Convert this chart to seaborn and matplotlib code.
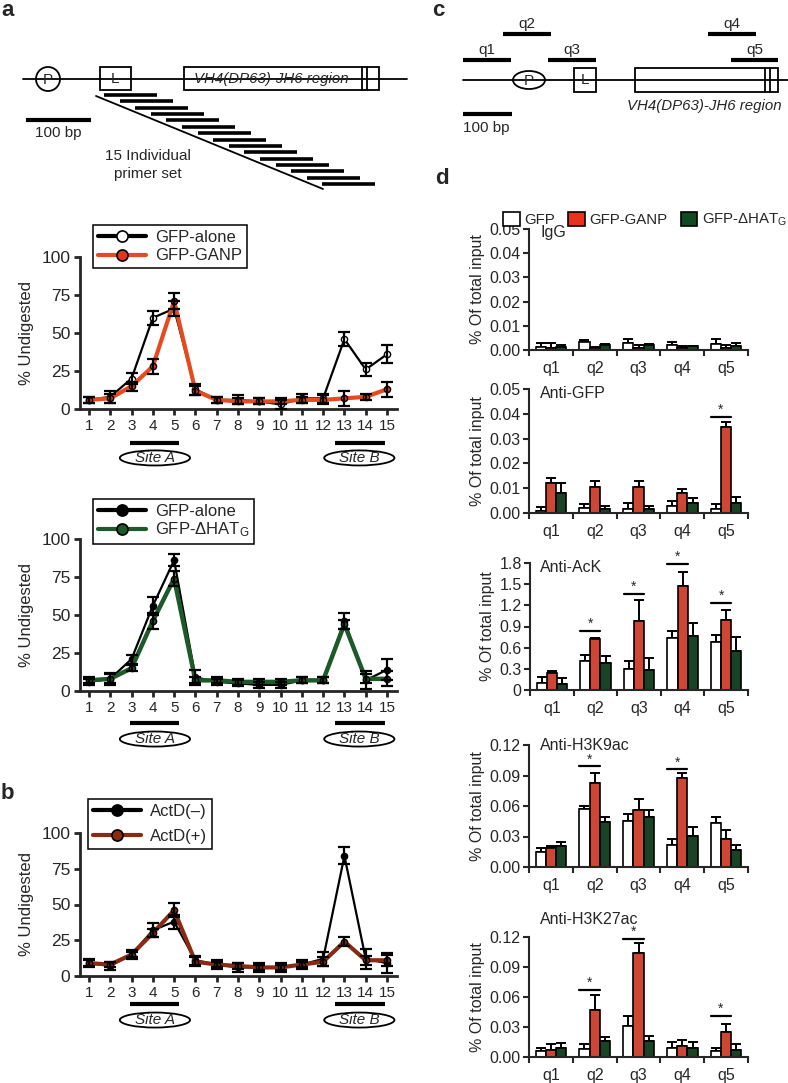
import numpy as np
import pandas as pd
import matplotlib
matplotlib.use('Agg')
import matplotlib.pyplot as plt
import seaborn as sns
from matplotlib.patches import Ellipse, Circle, Rectangle, Patch
from matplotlib.lines import Line2D

sns.set_style('ticks')
plt.rcParams['font.family'] = ['Liberation Sans', 'DejaVu Sans']
plt.rcParams['mathtext.default'] = 'regular'

W, H = 788, 1083

# ---------------- data: panels a / b (% undigested per primer set)
positions = list(range(1, 16))

a1_alone = [6, 8, 20, 60, 66, 13, 6, 6, 5, 3, 7, 7, 46, 26, 36]
a1_alone_err = [2, 4, 3.5, 4.5, 5, 3.5, 2, 3, 2, 3, 3, 3, 4.5, 4, 6]
a1_ganp = [6, 7, 15, 28, 71, 12, 6, 5, 5, 5, 6, 6, 7, 8, 13]
a1_ganp_err = [2, 3, 3, 5, 5, 3, 2, 2, 2, 2, 2, 3, 5, 2, 5]

a2_alone = [6, 8, 21, 56, 86, 9, 6, 5, 4, 4, 7, 7, 46, 7, 14]
a2_alone_err = [2, 4, 3, 6, 4, 5, 2, 2, 2, 2, 2, 2, 5, 6, 7]
a2_dhat = [7, 8, 15, 46, 74, 7, 7, 6, 6, 6, 7, 7, 44, 8, 8]
a2_dhat_err = [2, 3, 2, 5, 5, 2, 2, 2, 2, 2, 2, 2, 3, 3, 5]

b_minus = [9, 7, 15, 32, 38, 11, 8, 6, 6, 6, 8, 12, 84, 12, 9]
b_minus_err = [3, 3, 3, 5, 5, 3, 3, 3, 3, 3, 3, 5, 6, 7, 7]
b_plus = [9, 8, 15, 30, 46, 10, 8, 7, 6, 6, 8, 10, 24, 11, 11]
b_plus_err = [2, 2, 2, 3, 5, 3, 2, 2, 2, 2, 2, 3, 3, 3, 4]

# ---------------- data: panel d (ChIP, % of total input)
regions = ['q1', 'q2', 'q3', 'q4', 'q5']
conditions = ['GFP', 'GFP-GANP', 'GFP-dHAT']

igg = {'GFP': [0.0013, 0.0032, 0.0030, 0.0020, 0.0025],
       'GFP-GANP': [0.0010, 0.0008, 0.0010, 0.0010, 0.0010],
       'GFP-dHAT': [0.0013, 0.0020, 0.0020, 0.0015, 0.0015]}
igg_err = {'GFP': [0.0016, 0.0011, 0.0015, 0.0013, 0.0020],
           'GFP-GANP': [0.0019, 0.0005, 0.0010, 0.0005, 0.0010],
           'GFP-dHAT': [0.0009, 0.0005, 0.0005, 0.0003, 0.0015]}

gfp = {'GFP': [0.0010, 0.0020, 0.0016, 0.0030, 0.0018],
       'GFP-GANP': [0.0120, 0.0103, 0.0103, 0.0080, 0.0347],
       'GFP-dHAT': [0.0080, 0.0015, 0.0015, 0.0042, 0.0042]}
gfp_err = {'GFP': [0.0015, 0.0015, 0.0024, 0.0020, 0.0020],
           'GFP-GANP': [0.0020, 0.0027, 0.0027, 0.0016, 0.0021],
           'GFP-dHAT': [0.0040, 0.0012, 0.0015, 0.0017, 0.0024]}

ack = {'GFP': [0.10, 0.41, 0.30, 0.74, 0.68],
       'GFP-GANP': [0.246, 0.725, 0.98, 1.48, 0.99],
       'GFP-dHAT': [0.085, 0.38, 0.29, 0.76, 0.55]}
ack_err = {'GFP': [0.09, 0.09, 0.11, 0.09, 0.10],
           'GFP-GANP': [0.02, 0.015, 0.30, 0.19, 0.15],
           'GFP-dHAT': [0.08, 0.10, 0.17, 0.19, 0.20]}

h3k9 = {'GFP': [0.0148, 0.0569, 0.0450, 0.0214, 0.0437],
        'GFP-GANP': [0.0190, 0.0822, 0.0565, 0.0871, 0.0273],
        'GFP-dHAT': [0.0204, 0.0444, 0.0493, 0.0302, 0.0171]}
h3k9_err = {'GFP': [0.0039, 0.0029, 0.0076, 0.0066, 0.0050],
            'GFP-GANP': [0.0020, 0.0105, 0.0099, 0.0049, 0.0095],
            'GFP-dHAT': [0.0039, 0.0049, 0.0072, 0.0092, 0.0043]}

h3k27 = {'GFP': [0.0060, 0.0083, 0.0310, 0.0090, 0.0060],
         'GFP-GANP': [0.0073, 0.0473, 0.1043, 0.0107, 0.0247],
         'GFP-dHAT': [0.0090, 0.0160, 0.0157, 0.0090, 0.0067]}
h3k27_err = {'GFP': [0.0033, 0.0044, 0.0100, 0.0060, 0.0027],
             'GFP-GANP': [0.0060, 0.0150, 0.0097, 0.0060, 0.0086],
             'GFP-dHAT': [0.0053, 0.0040, 0.0053, 0.0063, 0.0066]}

# significance bars: (region index, height)
gfp_stars = [(4, 0.0387)]
ack_stars = [(1, 0.84), (2, 1.36), (3, 1.79), (4, 1.24)]
h3k9_stars = [(1, 0.099), (3, 0.096)]
h3k27_stars = [(1, 0.067), (2, 0.118), (4, 0.041)]

RED = '#e8331b'
GREEN = '#114a22'
LINE_RED = '#e84a1f'
LINE_GREEN = '#1c5a2a'
BROWN = '#8a2a10'
bar_colors = ['white', RED, GREEN]
dhat_label = 'GFP-ΔHAT$_G$'

fig = plt.figure(figsize=(W / 100, H / 100), dpi=100)
ov = fig.add_axes([0, 0, 1, 1])
ov.set_xlim(0, W)
ov.set_ylim(H, 0)
ov.axis('off')


def box(x0, y0, x1, y1):
    return [x0 / W, 1 - y1 / H, (x1 - x0) / W, (y1 - y0) / H]


#--- schematic a
k = dict(color='black', lw=1.3)
ov.plot([23, 407], [79, 79], **k)
ov.add_patch(Circle((48, 79), 12, fc='white', ec='black', lw=1.3))
ov.text(48, 80, 'P', ha='center', va='center', fontsize=11)
ov.add_patch(Rectangle((100, 67), 31, 23, fc='white', ec='black', lw=1.3))
ov.text(115.5, 79, 'L', ha='center', va='center', fontsize=11)
ov.add_patch(Rectangle((184, 67), 195, 23, fc='white', ec='black', lw=1.3))
ov.plot([362, 362], [67, 90], **k)
ov.plot([367, 367], [67, 90], **k)
ov.text(271, 79, 'VH4(DP63)-JH6 region', style='italic', fontsize=10.8, ha='center', va='center')
ov.plot([26, 91], [120, 120], color='black', lw=3, solid_capstyle='butt')
ov.text(58, 133, '100 bp', ha='center', va='center', fontsize=11)
for i in range(15):
    ov.plot([104 + 15.6 * i, 157 + 15.6 * i], [95 + 6.36 * i] * 2, color='black', lw=2.6,
            solid_capstyle='butt')
ov.plot([96, 323], [96, 189], **k)
ov.text(148, 165, '15 Individual\nprimer set', ha='center', va='center', fontsize=11, linespacing=1.3)

#--- schematic c
ov.plot([463, 788], [80, 80], **k)
ov.add_patch(Ellipse((529, 80), 32, 18, fc='white', ec='black', lw=1.3))
ov.text(529, 81, 'P', ha='center', va='center', fontsize=11)
ov.add_patch(Rectangle((574, 68), 22, 24, fc='white', ec='black', lw=1.3))
ov.text(585, 80, 'L', ha='center', va='center', fontsize=11)
ov.add_patch(Rectangle((635, 68), 143, 24, fc='white', ec='black', lw=1.3))
ov.plot([765, 765], [68, 92], **k)
ov.plot([770, 770], [68, 92], **k)
for name, x0, x1, y in [('q1', 463, 511, 60), ('q2', 503, 551, 34), ('q3', 548, 596, 60),
                        ('q4', 708, 756, 34), ('q5', 731, 778, 60)]:
    ov.plot([x0, x1], [y, y], color='black', lw=3, solid_capstyle='butt')
    ov.text((x0 + x1) / 2, y - 10, name, ha='center', va='center', fontsize=11)
ov.plot([463, 512], [114, 114], color='black', lw=3, solid_capstyle='butt')
ov.text(463, 128, '100 bp', ha='left', va='center', fontsize=11)
ov.text(704, 106, 'VH4(DP63)-JH6 region', style='italic', fontsize=10.8, ha='center', va='center')

for lab, x, y in [('a', 1, 0), ('b', 1, 783), ('c', 432, 0), ('d', 435, 168)]:
    ov.text(x, y, lab, fontsize=16, fontweight='bold', va='top', ha='left')


#--- line panels
def line_panel(rect, series, leg_xy, leg_space, bar_y, ell_y, ell_h):
    ax = fig.add_axes(box(*rect))
    ax.patch.set_alpha(0)
    handles = []
    for vals, errs, color, lw, mface, label in series:
        sns.lineplot(x=positions, y=vals, color=color, lw=lw, marker='o', markersize=4.5,
                     markerfacecolor=mface, markeredgecolor='black', markeredgewidth=1, ax=ax)
        ax.errorbar(positions, vals, yerr=errs, fmt='none', ecolor='black', elinewidth=1.6,
                    capsize=4.6, capthick=1.6, zorder=5)
        handles.append(Line2D([], [], color=color, lw=3, marker='o', markersize=8,
                              markerfacecolor=mface, markeredgecolor='black', markeredgewidth=1.2,
                              label=label))
    ax.set_xlim(0.58, 15.47)
    ax.set_ylim(0, 100)
    ax.set_xticks(positions)
    ax.set_yticks([0, 25, 50, 75, 100])
    ax.tick_params(width=2, length=4, pad=3)
    ax.tick_params(axis='x', labelsize=11)
    ax.tick_params(axis='y', labelsize=12.5)
    for s in ['left', 'bottom']:
        ax.spines[s].set_linewidth(2)
    sns.despine(ax=ax)
    ax.set_ylabel('% Undigested', fontsize=12, labelpad=5)
    tr = ax.get_xaxis_transform()
    for lo, hi, cx, name in [(2.95, 5.25, 4.1, 'Site A'), (12.55, 14.9, 13.7, 'Site B')]:
        ax.plot([lo, hi], [bar_y, bar_y], transform=tr, color='black', lw=3, clip_on=False,
                solid_capstyle='butt')
        ax.add_patch(Ellipse((cx, ell_y), 3.3, ell_h, transform=tr, fill=False, ec='black',
                             lw=1.3, clip_on=False))
        ax.text(cx, ell_y, name, transform=tr, ha='center', va='center', style='italic', fontsize=11)
    leg = fig.legend(handles=handles, loc='upper left', bbox_to_anchor=(leg_xy[0] / W, 1 - leg_xy[1] / H),
                     fontsize=12, handlelength=2.9, handletextpad=0.5, borderpad=0.3, borderaxespad=0,
                     labelspacing=leg_space, fancybox=False, edgecolor='black', framealpha=1)
    leg.get_frame().set_linewidth(1.1)
    return ax


line_panel((80, 257, 397, 409),
           [(a1_alone, a1_alone_err, 'black', 1.6, 'white', 'GFP-alone'),
            (a1_ganp, a1_ganp_err, LINE_RED, 3, RED, 'GFP-GANP')],
           (93, 225), 0.2, -0.224, -0.322, 0.099)
line_panel((80, 539, 397, 691),
           [(a2_alone, a2_alone_err, 'black', 1.6, 'black', 'GFP-alone'),
            (a2_dhat, a2_dhat_err, LINE_GREEN, 3.2, LINE_GREEN, dhat_label)],
           (93, 499), 0.1, -0.21, -0.316, 0.099)
line_panel((80, 833, 397, 976),
           [(b_minus, b_minus_err, 'black', 1.6, 'black', 'ActD(–)'),
            (b_plus, b_plus_err, BROWN, 3, BROWN, 'ActD(+)')],
           (88, 799), 0.6, -0.196, -0.308, 0.105)


#--- bar panels
def bar_panel(rect, vals, errs, ylim, yticks, ylabels, title, title_y, stars):
    ax = fig.add_axes(box(*rect))
    ax.patch.set_alpha(0)
    df = pd.DataFrame([(r, c, vals[c][i]) for c in conditions for i, r in enumerate(regions)],
                      columns=['region', 'condition', 'value'])
    sns.barplot(data=df, x='region', y='value', hue='condition', order=regions, hue_order=conditions,
                palette=bar_colors, edgecolor='black', linewidth=1.2, width=0.7, errorbar=None,
                legend=False, ax=ax)
    for cont, c in zip(ax.containers, conditions):
        xs = [b.get_x() + b.get_width() / 2 for b in cont]
        hs = [b.get_height() for b in cont]
        ax.errorbar(xs, hs, yerr=[np.zeros(len(hs)), errs[c]], fmt='none', ecolor='black',
                    elinewidth=1.4, capsize=3.5, capthick=1.4, zorder=0)
    for i, y in stars:
        b0 = ax.containers[0][i]
        b1 = ax.containers[1][i]
        x0 = b0.get_x()
        x1 = b1.get_x() + b1.get_width()
        ax.plot([x0, x1], [y, y], color='black', lw=1.6, clip_on=False)
        ax.text((x0 + x1) / 2, y, '*', ha='center', va='bottom', fontsize=10, clip_on=False)
    ax.set_xlim(-0.5, 4.5)
    ax.set_ylim(*ylim)
    ax.set_yticks(yticks)
    ax.set_yticklabels(ylabels)
    ax.set_xticks(range(5))
    ax.set_xticks(np.arange(-0.5, 5, 1), minor=True)
    ax.tick_params(axis='x', which='major', length=0, pad=8, labelsize=11.5)
    ax.tick_params(axis='x', which='minor', length=4, width=1.5)
    ax.tick_params(axis='y', length=4, width=1.5, labelsize=11.5, pad=2)
    for s in ['left', 'bottom']:
        ax.spines[s].set_linewidth(1.5)
    sns.despine(ax=ax)
    ax.set_xlabel('')
    ax.set_ylabel('% Of total input', fontsize=11.5, labelpad=3)
    fig.text(540 / W, 1 - title_y / H, title, fontsize=11.5, ha='left', va='center')
    return ax


bar_panel((529, 229, 748, 350), igg, igg_err, (0, 0.05), [0, 0.01, 0.02, 0.03, 0.04, 0.05],
          ['0.00', '0.01', '0.02', '0.03', '0.04', '0.05'], 'IgG', 233, [])
bar_panel((529, 389, 748, 513), gfp, gfp_err, (0, 0.05), [0, 0.01, 0.02, 0.03, 0.04, 0.05],
          ['0.00', '0.01', '0.02', '0.03', '0.04', '0.05'], 'Anti-GFP', 393, gfp_stars)
bar_panel((530, 563, 748, 690), ack, ack_err, (0, 1.8), [0, 0.3, 0.6, 0.9, 1.2, 1.5, 1.8],
          ['0', '0.3', '0.6', '0.9', '1.2', '1.5', '1.8'], 'Anti-AcK', 567, ack_stars)
bar_panel((529, 745, 748, 867), h3k9, h3k9_err, (0, 0.12), [0, 0.03, 0.06, 0.09, 0.12],
          ['0.00', '0.03', '0.06', '0.09', '0.12'], 'Anti-H3K9ac', 746, h3k9_stars)
bar_panel((529, 937, 748, 1057), h3k27, h3k27_err, (0, 0.12), [0, 0.03, 0.06, 0.09, 0.12],
          ['0.00', '0.03', '0.06', '0.09', '0.12'], 'Anti-H3K27ac', 919, h3k27_stars)

leg_handles = [Patch(facecolor=c, edgecolor='black', linewidth=1.2) for c in bar_colors]
fig.legend(leg_handles, ['GFP', 'GFP-GANP', dhat_label], loc='center left',
           bbox_to_anchor=(503 / W, 1 - 220 / H), ncol=3, frameon=False, fontsize=10.8,
           handlelength=1.1, handleheight=1.1, handletextpad=0.3, columnspacing=0.9, borderaxespad=0,
           borderpad=0)

fig.savefig('out.png', dpi=100)
